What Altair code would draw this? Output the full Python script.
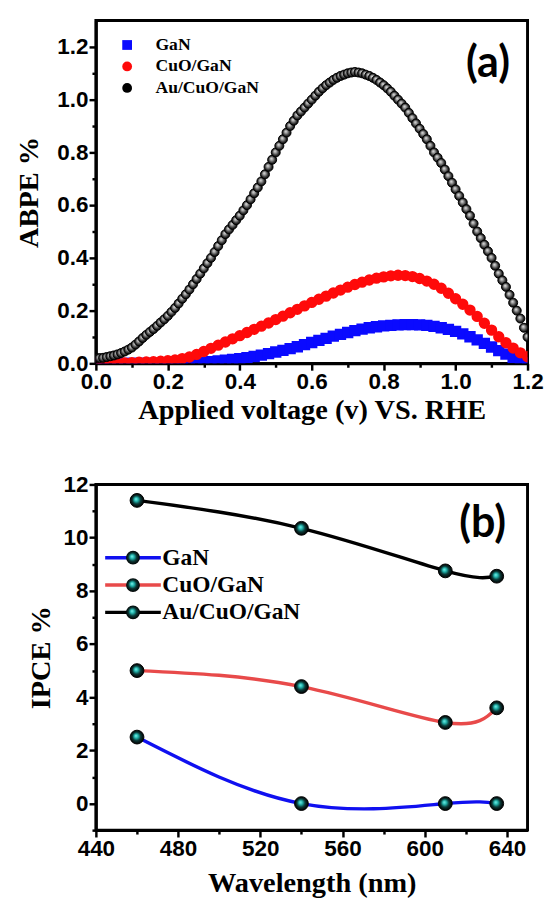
import altair as alt
import pandas as pd

# ---------------- data: panel (a) ABPE ----------------
series_names = ["GaN", "CuO/GaN", "Au/CuO/GaN"]

voltage = [0.00, 0.02, 0.04, 0.06, 0.08, 0.10, 0.12, 0.14, 0.16, 0.18,
           0.20, 0.22, 0.24, 0.26, 0.28, 0.30, 0.32, 0.34, 0.36, 0.38,
           0.40, 0.42, 0.44, 0.46, 0.48, 0.50, 0.52, 0.54, 0.56, 0.58,
           0.60, 0.62, 0.64, 0.66, 0.68, 0.70, 0.72, 0.74, 0.76, 0.78,
           0.80, 0.82, 0.84, 0.86, 0.88, 0.90, 0.92, 0.94, 0.96, 0.98,
           1.00, 1.02, 1.04, 1.06, 1.08, 1.10, 1.12, 1.14, 1.16, 1.18, 1.20]

abpe_gan = [0.000, 0.000, 0.000, 0.000, 0.000, 0.000, 0.000, 0.000, 0.000, 0.000,
            0.000, 0.000, 0.000, 0.000, 0.001, 0.003, 0.006, 0.009, 0.012, 0.015,
            0.018, 0.022, 0.026, 0.031, 0.037, 0.043, 0.049, 0.056, 0.063, 0.071,
            0.079, 0.087, 0.095, 0.103, 0.110, 0.117, 0.124, 0.130, 0.135, 0.139,
            0.142, 0.144, 0.146, 0.147, 0.147, 0.146, 0.144, 0.140, 0.135, 0.129,
            0.121, 0.112, 0.101, 0.089, 0.076, 0.062, 0.048, 0.035, 0.022, 0.011, 0.002]

abpe_cuo = [0.000, 0.000, 0.000, 0.001, 0.002, 0.003, 0.004, 0.005, 0.006, 0.008,
            0.010, 0.013, 0.018, 0.024, 0.034, 0.045, 0.057, 0.069, 0.081, 0.093,
            0.105, 0.117, 0.129, 0.141, 0.153, 0.166, 0.179, 0.192, 0.205, 0.218,
            0.231, 0.243, 0.255, 0.267, 0.278, 0.289, 0.299, 0.308, 0.316, 0.323,
            0.328, 0.332, 0.334, 0.333, 0.329, 0.322, 0.312, 0.300, 0.285, 0.266,
            0.245, 0.224, 0.202, 0.178, 0.152, 0.126, 0.101, 0.078, 0.058, 0.040, 0.025]

# Au/CuO/GaN is sampled more densely (its markers form a continuous band)
voltage_fine = [0.00, 0.01, 0.02, 0.03, 0.04, 0.05, 0.06, 0.07, 0.08, 0.09,
                0.10, 0.11, 0.12, 0.13, 0.14, 0.15, 0.16, 0.17, 0.18, 0.19,
                0.20, 0.21, 0.22, 0.23, 0.24, 0.25, 0.26, 0.27, 0.28, 0.29,
                0.30, 0.31, 0.32, 0.33, 0.34, 0.35, 0.36, 0.37, 0.38, 0.39,
                0.40, 0.41, 0.42, 0.43, 0.44, 0.45, 0.46, 0.47, 0.48, 0.49,
                0.50, 0.51, 0.52, 0.53, 0.54, 0.55, 0.56, 0.57, 0.58, 0.59,
                0.60, 0.61, 0.62, 0.63, 0.64, 0.65, 0.66, 0.67, 0.68, 0.69,
                0.70, 0.71, 0.72, 0.73, 0.74, 0.75, 0.76, 0.77, 0.78, 0.79,
                0.80, 0.81, 0.82, 0.83, 0.84, 0.85, 0.86, 0.87, 0.88, 0.89,
                0.90, 0.91, 0.92, 0.93, 0.94, 0.95, 0.96, 0.97, 0.98, 0.99,
                1.00, 1.01, 1.02, 1.03, 1.04, 1.05, 1.06, 1.07, 1.08, 1.09,
                1.10, 1.11, 1.12, 1.13, 1.14, 1.15, 1.16, 1.17, 1.18, 1.19, 1.20]

abpe_au = [0.020, 0.020, 0.021, 0.024, 0.027, 0.030, 0.034, 0.039, 0.045, 0.052,
           0.060, 0.071, 0.083, 0.096, 0.108, 0.119, 0.130, 0.142, 0.155, 0.167,
           0.180, 0.195, 0.210, 0.227, 0.245, 0.262, 0.280, 0.300, 0.320, 0.340,
           0.360, 0.380, 0.400, 0.422, 0.445, 0.467, 0.490, 0.508, 0.525, 0.543,
           0.560, 0.580, 0.600, 0.622, 0.645, 0.667, 0.690, 0.717, 0.745, 0.772,
           0.800, 0.825, 0.850, 0.875, 0.900, 0.920, 0.940, 0.955, 0.970, 0.985,
           1.000, 1.015, 1.030, 1.043, 1.055, 1.065, 1.075, 1.083, 1.090, 1.095,
           1.100, 1.103, 1.105, 1.103, 1.100, 1.095, 1.090, 1.083, 1.075, 1.065,
           1.055, 1.043, 1.030, 1.015, 1.000, 0.985, 0.970, 0.950, 0.930, 0.910,
           0.890, 0.870, 0.850, 0.825, 0.800, 0.780, 0.760, 0.735, 0.710, 0.685,
           0.660, 0.635, 0.610, 0.585, 0.560, 0.530, 0.500, 0.475, 0.450, 0.425,
           0.400, 0.370, 0.340, 0.315, 0.290, 0.260, 0.230, 0.200, 0.170, 0.135, 0.100]

x_ticks_a = [0.0, 0.2, 0.4, 0.6, 0.8, 1.0, 1.2]
x_minor_a = [0.1, 0.3, 0.5, 0.7, 0.9, 1.1]
y_ticks_a = [0.0, 0.2, 0.4, 0.6, 0.8, 1.0, 1.2]
y_minor_a = [0.1, 0.3, 0.5, 0.7, 0.9, 1.1]

# ---------------- data: panel (b) IPCE ----------------
wavelength = [460, 540, 610, 635]
ipce_gan = [2.5, 0.0, 0.0, 0.0]
ipce_cuo = [5.0, 4.4, 3.05, 3.6]
ipce_au = [11.4, 10.35, 8.75, 8.55]

x_ticks_b = [440, 480, 520, 560, 600, 640]
x_minor_b = [460, 500, 540, 580, 620]
y_ticks_b = [0, 2, 4, 6, 8, 10, 12]
y_minor_b = [-1, 1, 3, 5, 7, 9, 11]

# ---------------- tables ----------------
rows_a = []
for name, xs, vals in zip(series_names, [voltage, voltage, voltage_fine],
                          [abpe_gan, abpe_cuo, abpe_au]):
    for v, a in zip(xs, vals):
        rows_a.append({"series": name, "v": v, "abpe": a})
df_a = pd.DataFrame(rows_a)

rows_b = []
for name, vals in zip(series_names, [ipce_gan, ipce_cuo, ipce_au]):
    for w, p in zip(wavelength, vals):
        rows_b.append({"series": name, "wl": w, "ipce": p})
df_b = pd.DataFrame(rows_b)

SERIF = "Liberation Serif"
SANS = "Liberation Sans"

# ---------------- panel (a) ----------------
xs_a = alt.Scale(domain=[0, 1.2], nice=False, zero=False)
ys_a = alt.Scale(domain=[0, 1.3], nice=False, zero=False)

x_a = alt.X("v:Q", scale=xs_a,
            axis=alt.Axis(values=x_ticks_a, format=".1f", title="Applied voltage (v) VS. RHE",
                          titlePadding=2, orient="bottom"))
y_a = alt.Y("abpe:Q", scale=ys_a,
            axis=alt.Axis(values=y_ticks_a, format=".1f", title="ABPE %", titlePadding=14,
                          orient="left"))

legend_a = alt.Legend(title=None, orient="none", legendX=23, legendY=16, padding=0,
                      symbolSize=100, labelFont=SERIF, labelFontWeight="bold",
                      labelFontSize=18, labelColor="black", labelOffset=20,
                      rowPadding=4, symbolStrokeWidth=0, symbolOpacity=1)

color_a = alt.Color("series:N", scale=alt.Scale(domain=series_names,
                                                  range=["#0a0aff", "#ff0a0a", "#000000"]),
                    legend=legend_a)
shape_a = alt.Shape("series:N", scale=alt.Scale(domain=series_names,
                                                  range=["square", "circle", "circle"]),
                    legend=legend_a)

band_a = alt.Chart(df_a).transform_filter(
    alt.datum.series != "Au/CuO/GaN"
).mark_point(filled=True, opacity=1, size=135, clip=True).encode(
    x=x_a, y=y_a, color=color_a, shape=shape_a
)

sphere_a = alt.RadialGradient(
    gradient="radial", x1=0.4, y1=0.35, r1=0, x2=0.5, y2=0.5, r2=0.5,
    stops=[alt.GradientStop(offset=0, color="#e6e6e6"),
           alt.GradientStop(offset=0.35, color="#9a9a9a"),
           alt.GradientStop(offset=0.7, color="#3a3a3a"),
           alt.GradientStop(offset=1, color="#000000")])

black_a = alt.Chart(df_a).transform_filter(
    alt.datum.series == "Au/CuO/GaN"
).mark_point(filled=True, fill=sphere_a, stroke="black", strokeWidth=1.0,
             opacity=1, size=85, clip=True).encode(
    x=alt.X("v:Q", scale=xs_a, axis=None), y=alt.Y("abpe:Q", scale=ys_a, axis=None)
)

minor_a = alt.Chart(df_a).mark_point(opacity=0).encode(
    x=alt.X("v:Q", scale=xs_a,
            axis=alt.Axis(values=x_minor_a, labels=False, domain=False, title=None,
                          tickSize=4, orient="bottom")),
    y=alt.Y("abpe:Q", scale=ys_a,
            axis=alt.Axis(values=y_minor_a, labels=False, domain=False, title=None,
                          tickSize=4, orient="left")),
)

top = alt.layer(band_a, black_a, minor_a).resolve_axis(
    x="independent", y="independent"
).properties(
    width=442, height=351,
    title=alt.TitleParams("(a)", anchor="end", frame="group", orient="top",
                          offset=-67, dx=-18, font="Lato", fontSize=44,
                          fontWeight="bold", color="black")
)

# ---------------- panel (b) ----------------
xs_b = alt.Scale(domain=[440, 650], nice=False, zero=False)
ys_b = alt.Scale(domain=[-1, 12], nice=False, zero=False)

x_b = alt.X("wl:Q", scale=xs_b,
            axis=alt.Axis(values=x_ticks_b, format="d", title="Wavelength (nm)",
                          titlePadding=9, orient="bottom"))
y_b = alt.Y("ipce:Q", scale=ys_b,
            axis=alt.Axis(values=y_ticks_b, format="d", title="IPCE %", titlePadding=8,
                          orient="left"))

line_legend = alt.Legend(title=None, orient="none", legendX=26, legendY=63, padding=0,
                         symbolType="M-4.03,0L4.03,0", symbolSize=200,
                         symbolStrokeWidth=3.5, labelFont=SERIF, labelFontWeight="bold",
                         labelFontSize=24, labelColor="black", labelOffset=18,
                         rowPadding=4)
point_legend = alt.Legend(title=None, orient="none", legendX=26, legendY=63, padding=0,
                          symbolType="circle", symbolSize=200, symbolFillColor="#1aa9a3",
                          symbolStrokeColor="black", symbolStrokeWidth=3.5,
                          labelFont=SERIF, labelFontWeight="bold", labelFontSize=24,
                          labelColor="black", labelOffset=18, labelOpacity=0,
                          rowPadding=-2)

lines_b = alt.Chart(df_b).mark_line(interpolate="natural", strokeWidth=3.5).encode(
    x=x_b, y=y_b,
    stroke=alt.Stroke("series:N",
                      scale=alt.Scale(domain=series_names,
                                      range=["#1010f0", "#e84a4a", "#000000"]),
                      legend=line_legend),
    detail="series:N",
)

sphere_b = alt.RadialGradient(
    gradient="radial", x1=0.42, y1=0.4, r1=0, x2=0.5, y2=0.5, r2=0.5,
    stops=[alt.GradientStop(offset=0, color="#7ff3ec"),
           alt.GradientStop(offset=0.3, color="#1fb3ab"),
           alt.GradientStop(offset=0.6, color="#0b3836"),
           alt.GradientStop(offset=1, color="#000000")])

points_b = alt.Chart(df_b).mark_point(filled=True, fill=sphere_b, stroke="black",
                                      strokeWidth=1, opacity=1, size=200).encode(
    x=alt.X("wl:Q", scale=xs_b, axis=None), y=alt.Y("ipce:Q", scale=ys_b, axis=None),
    shape=alt.Shape("series:N", sort=series_names,
                    scale=alt.Scale(range=["circle", "circle", "circle"]),
                    legend=point_legend),
)

minor_b = alt.Chart(df_b).mark_point(opacity=0).encode(
    x=alt.X("wl:Q", scale=xs_b,
            axis=alt.Axis(values=x_minor_b, labels=False, domain=False, title=None,
                          tickSize=4, orient="bottom")),
    y=alt.Y("ipce:Q", scale=ys_b,
            axis=alt.Axis(values=y_minor_b, labels=False, domain=False, title=None,
                          tickSize=4, orient="left")),
)

bottom = alt.layer(lines_b, points_b, minor_b).resolve_axis(
    x="independent", y="independent"
).properties(
    width=442, height=354,
    title=alt.TitleParams("(b)", anchor="end", frame="group", orient="top",
                          offset=-74, dx=-22, font="Lato", fontSize=44,
                          fontWeight="bold", color="black")
)

chart = alt.vconcat(top, bottom, spacing=47).resolve_scale(
    color="independent", shape="independent", stroke="independent", size="independent"
).resolve_legend(
    color="independent", shape="independent", stroke="independent", size="independent"
).properties(
    padding={"left": 5, "top": 0, "right": 5, "bottom": 5}
).configure_view(
    stroke="black", strokeWidth=3
).configure_axis(
    grid=False, labelFlush=False,
    labelFont=SANS, labelFontWeight="bold", labelFontSize=23, labelColor="black",
    titleFont=SERIF, titleFontWeight="bold", titleFontSize=29, titleColor="black",
    domainColor="black", domainWidth=3, tickColor="black", tickWidth=2.5, tickSize=7,
    labelPadding=1
).configure_title(anchor="end")

chart.save("out.html", embed_options={"renderer": "svg", "actions": False})
